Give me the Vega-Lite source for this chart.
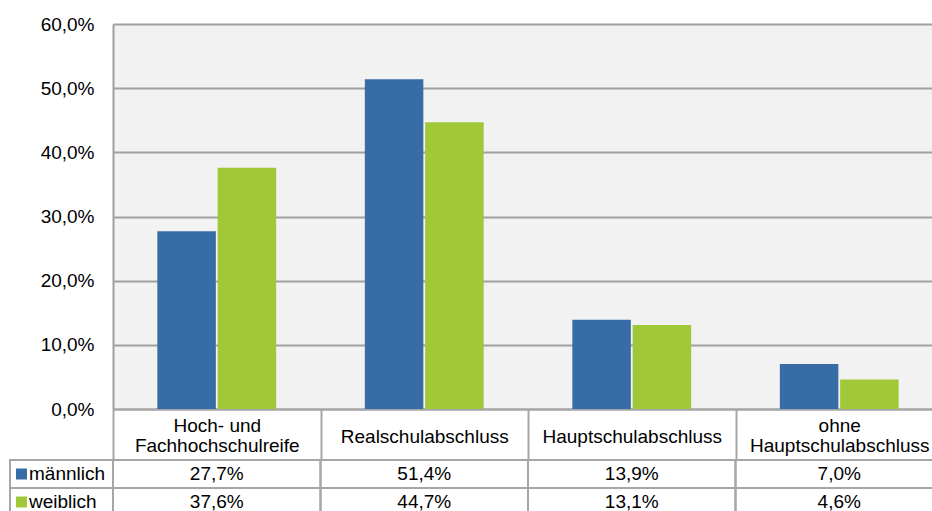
{
  "$schema": "https://vega.github.io/schema/vega-lite/v6.json",
  "padding": {"left": 9, "top": 15, "right": 0, "bottom": 0},
  "spacing": 51,
  "bounds": "flush",
  "config": {
    "font": "Liberation Sans",
    "axis": {"labelFont": "Liberation Sans", "labelFontSize": 19, "labelColor": "#000000"},
    "text": {"font": "Liberation Sans", "fontSize": 19, "color": "#000000"}
  },
  "datasets": {
    "d": [
      {"cat": "Hoch- und Fachhochschulreife", "series": "männlich", "value": 27.7},
      {"cat": "Hoch- und Fachhochschulreife", "series": "weiblich", "value": 37.6},
      {"cat": "Realschulabschluss", "series": "männlich", "value": 51.4},
      {"cat": "Realschulabschluss", "series": "weiblich", "value": 44.7},
      {"cat": "Hauptschulabschluss", "series": "männlich", "value": 13.9},
      {"cat": "Hauptschulabschluss", "series": "weiblich", "value": 13.1},
      {"cat": "ohne Hauptschulabschluss", "series": "männlich", "value": 7.0},
      {"cat": "ohne Hauptschulabschluss", "series": "weiblich", "value": 4.6}
    ],
    "s": [
      {"series": "männlich"},
      {"series": "weiblich"}
    ]
  },
  "vconcat": [
    {
      "width": 830,
      "height": 385,
      "view": {"fill": "#f2f2f2", "stroke": null},
      "data": {"name": "d"},
      "mark": {"type": "bar"},
      "encoding": {
        "x": {
          "field": "cat",
          "type": "nominal",
          "sort": ["Hoch- und Fachhochschulreife", "Realschulabschluss", "Hauptschulabschluss", "ohne Hauptschulabschluss"],
          "scale": {"paddingInner": 0, "paddingOuter": 0},
          "axis": {
            "title": null,
            "labelAngle": 0,
            "tickBand": "extent",
            "ticks": true,
            "tickSize": 51,
            "tickColor": "#a6a6a6",
            "tickWidth": 2,
            "domainColor": "#a6a6a6",
            "domainWidth": 2,
            "labelBaseline": "middle",
            "labelPadding": {
              "condition": {"test": "datum.value == 'Hoch- und Fachhochschulreife' || datum.value == 'ohne Hauptschulabschluss'", "value": -35},
              "value": -24
            },
            "labelLineHeight": 20,
            "labelLimit": 0,
            "labelExpr": "datum.value == 'Hoch- und Fachhochschulreife' ? ['Hoch- und', 'Fachhochschulreife'] : datum.value == 'ohne Hauptschulabschluss' ? ['ohne', 'Hauptschulabschluss'] : datum.value"
          }
        },
        "xOffset": {
          "field": "series",
          "type": "nominal",
          "scale": {"paddingInner": 0.03, "paddingOuter": 0.735}
        },
        "y": {
          "field": "value",
          "type": "quantitative",
          "scale": {"domain": [0, 60], "nice": false},
          "axis": {
            "title": null,
            "values": [0, 10, 20, 30, 40, 50, 60],
            "labelExpr": "replace(format(datum.value, '.1f'), '.', ',') + '%'",
            "ticks": false,
            "labelPadding": 19,
            "gridColor": "#a0a0a0",
            "gridWidth": 2,
            "domainColor": "#a0a0a0",
            "domainWidth": 2
          }
        },
        "color": {
          "field": "series",
          "type": "nominal",
          "scale": {"domain": ["männlich", "weiblich"], "range": ["#376CA6", "#A0C839"]},
          "legend": null
        }
      }
    },
    {
      "width": 830,
      "height": 56,
      "view": {"stroke": null, "fill": null},
      "resolve": {"scale": {"x": "independent"}},
      "layer": [
        {
          "data": {"name": "d"},
          "mark": {"type": "rect", "fill": null, "stroke": "#a6a6a6", "strokeWidth": 2},
          "encoding": {
            "x": {
              "field": "cat", "type": "nominal",
              "sort": ["Hoch- und Fachhochschulreife", "Realschulabschluss", "Hauptschulabschluss", "ohne Hauptschulabschluss"],
              "scale": {"paddingInner": 0, "paddingOuter": 0},
              "axis": null
            },
            "y": {"field": "series", "type": "nominal", "scale": {"domain": ["männlich", "weiblich"], "paddingInner": 0, "paddingOuter": 0}, "axis": null}
          }
        },
        {
          "data": {"name": "d"},
          "transform": [{"calculate": "replace(format(datum.value, '.1f'), '.', ',') + '%'", "as": "lbl"}],
          "mark": {"type": "text", "align": "center", "baseline": "middle"},
          "encoding": {
            "x": {
              "field": "cat", "type": "nominal",
              "sort": ["Hoch- und Fachhochschulreife", "Realschulabschluss", "Hauptschulabschluss", "ohne Hauptschulabschluss"],
              "scale": {"paddingInner": 0, "paddingOuter": 0},
              "axis": null
            },
            "y": {"field": "series", "type": "nominal", "scale": {"domain": ["männlich", "weiblich"], "paddingInner": 0, "paddingOuter": 0}, "axis": null},
            "text": {"field": "lbl", "type": "nominal"}
          }
        },
        {
          "data": {"name": "s"},
          "mark": {"type": "rect", "fill": null, "stroke": "#a6a6a6", "strokeWidth": 2},
          "encoding": {
            "x": {"datum": "L", "type": "nominal", "scale": {"domain": ["L"], "range": [-103, 0], "paddingInner": 0, "paddingOuter": 0}, "axis": null},
            "y": {"field": "series", "type": "nominal", "scale": {"domain": ["männlich", "weiblich"], "paddingInner": 0, "paddingOuter": 0}, "axis": null}
          }
        },
        {
          "data": {"name": "s"},
          "mark": {"type": "square", "size": 121, "opacity": 1, "filled": true, "xOffset": -40},
          "encoding": {
            "x": {"datum": "L", "type": "nominal", "scale": {"domain": ["L"], "range": [-103, 0], "paddingInner": 0, "paddingOuter": 0}, "axis": null},
            "y": {"field": "series", "type": "nominal", "scale": {"domain": ["männlich", "weiblich"], "paddingInner": 0, "paddingOuter": 0}, "axis": null},
            "color": {
              "field": "series", "type": "nominal",
              "scale": {"domain": ["männlich", "weiblich"], "range": ["#376CA6", "#A0C839"]},
              "legend": null
            }
          }
        },
        {
          "data": {"name": "s"},
          "mark": {"type": "text", "align": "left", "baseline": "middle", "xOffset": -32.5},
          "encoding": {
            "x": {"datum": "L", "type": "nominal", "scale": {"domain": ["L"], "range": [-103, 0], "paddingInner": 0, "paddingOuter": 0}, "axis": null},
            "y": {"field": "series", "type": "nominal", "scale": {"domain": ["männlich", "weiblich"], "paddingInner": 0, "paddingOuter": 0}, "axis": null},
            "text": {"field": "series", "type": "nominal"}
          }
        }
      ]
    }
  ]
}
